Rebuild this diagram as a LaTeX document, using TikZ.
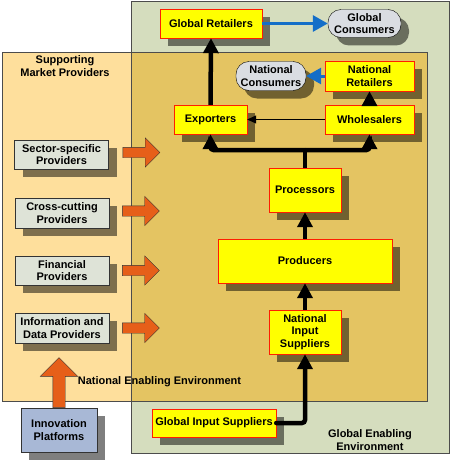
\documentclass[tikz,border=0pt]{standalone}
\usepackage{fontspec}
\setmainfont{Liberation Sans}
\usetikzlibrary{arrows.meta,shapes.arrows,shadows}
\definecolor{globalenv}{RGB}{213,221,190}
\definecolor{natlight}{RGB}{254,223,156}
\definecolor{natdark}{RGB}{228,196,98}
\definecolor{chainyellow}{RGB}{255,255,0}
\definecolor{chainred}{RGB}{255,30,0}
\definecolor{provgray}{RGB}{222,227,215}
\definecolor{innoblue}{RGB}{168,184,214}
\definecolor{arroworange}{RGB}{230,95,25}
\definecolor{flowblue}{RGB}{20,110,200}
\definecolor{consgray}{RGB}{218,221,226}

\begin{document}
\begin{tikzpicture}[x=1pt,y=-1pt,font=\fontsize{11}{12.7}\selectfont\bfseries]
\tikzstyle{shade}=[drop shadow={shadow xshift=8pt,shadow yshift=-8pt,fill=black,opacity=0.5}]
\tikzstyle{chain}=[draw=chainred,fill=chainyellow,align=center,inner sep=1pt,shade]
\tikzstyle{provider}=[draw=black!80,fill=provgray,align=center,inner sep=1pt,minimum width=94pt,minimum height=29pt,shade]
\tikzstyle{consumer}=[draw=black,fill=consgray,align=center,inner sep=1pt,rounded corners=13pt,shade]
\tikzstyle{thick flow}=[line width=4.5pt,-{Triangle[width=15pt,length=15pt]}]
\tikzstyle{thin flow}=[line width=1pt,-{Triangle[width=8pt,length=9pt]}]
\tikzstyle{blue flow}=[line width=3pt,color=flowblue,-{Triangle[width=16pt,length=15pt]}]
\tikzstyle{support}=[single arrow,draw=black!80,fill=arroworange,inner sep=5pt,single arrow head extend=9.5pt,minimum height=37pt]

\useasboundingbox (0,0) rectangle (451,460);

% environments
\fill [globalenv] (131,1) rectangle (449,453);
\fill [natlight] (2,52) rectangle (427,401);
\fill [natdark] (131,52) rectangle (427,401);
\draw [black!70] (131,1) rectangle (449,453);
\draw [black!70] (2,52) rectangle (427,401);

% value chain
\coordinate (proc) at (305,190);
\path (proc) + (0,71) coordinate (prod);
\path (proc) + (0,142) coordinate (nis);
\path (proc) + (-91,233) coordinate (gis);
\path (proc) + (-94.5,-70.5) coordinate (exp);
\path (proc) + (64.5,-70.5) coordinate (whole);
\path (whole) + (0,-43.5) coordinate (nret);
\path (nret) + (-98.5,0) coordinate (ncons);
\path (exp) + (0.5,-96) coordinate (gret);
\path (gret) + (153.5,0) coordinate (gcons);
\path (proc) + (0,-40) coordinate (split);

\node (GR) [chain,minimum width=102pt,minimum height=29pt] at (gret) {Global Retailers};
\node (GC) [consumer,minimum width=73pt,minimum height=28pt] at (gcons) {Global\\Consumers};
\node (NC) [consumer,minimum width=70pt,minimum height=29pt] at (ncons) {National\\Consumers};
\node (NR) [chain,minimum width=89pt,minimum height=30pt] at (nret) {National\\Retailers};
\node (WH) [chain,minimum width=89pt,minimum height=29pt] at (whole) {Wholesalers};
\node (EX) [chain,minimum width=73pt,minimum height=29pt] at (exp) {Exporters};
\node (PR) [chain,minimum width=72pt,minimum height=44pt] at (proc) {Processors};
\node (PD) [chain,minimum width=174pt,minimum height=44pt] at (prod) {Producers};
\node (NI) [chain,minimum width=72pt,minimum height=44pt] at (nis) {National\\Input\\Suppliers};
\node (GI) [chain,minimum width=124pt,minimum height=28pt] at (gis) {Global Input Suppliers};

\draw [blue flow] (GR.east) -- (GC.west);
\draw [blue flow] (NR.west) -- (NC.east);
\draw [thick flow] (EX.north) -- (GR.south);
\draw [thick flow] (WH.north) -- (NR.south);
\draw [thin flow] (WH.west) -- (EX.east);
\draw [line width=4.5pt] (PR.north) -- (split);
\draw [thick flow,rounded corners=3pt] (split) -| (EX.south);
\draw [thick flow,rounded corners=3pt] (split) -| (WH.south);
\draw [thick flow] (PR.south |- PD.north) -- (PR.south);
\draw [thick flow] (NI.north) -- (PD.south);
\draw [thick flow,line cap=round,rounded corners=3pt] (GI.east) -| (NI.south);

% supporting providers
\coordinate (sec) at (61.5,154.5);
\path (sec) + (0.5,58.5) coordinate (cross);
\path (sec) + (0.5,116) coordinate (fin);
\path (sec) + (0.5,173.5) coordinate (info);
\path (sec) + (-2.5,275.5) coordinate (inno);

\node (SEC) [provider] at (sec) {Sector-specific\\Providers};
\node (CRO) [provider,minimum height=30pt] at (cross) {Cross-cutting\\Providers};
\node (FIN) [provider] at (fin) {Financial\\Providers};
\node (INF) [provider,minimum height=30pt] at (info) {Information and\\Data Providers};
\node (INN) [provider,fill=innoblue,minimum width=76pt,minimum height=44pt] at (inno) {Innovation\\Platforms};

\node (SECA) [support,anchor=tail,xshift=14pt,yshift=2pt] at (SEC.east) {};
\node (CROA) [support,anchor=tail,xshift=13pt,yshift=2pt] at (CRO.east) {};
\node (FINA) [support,anchor=tail,xshift=13pt] at (FIN.east) {};
\node (INFA) [support,anchor=tail,xshift=13pt] at (INF.east) {};
\node (INNA) [support,shape border rotate=90,anchor=tail,inner sep=6pt,single arrow head extend=12.5pt,minimum height=50pt] at (INN.north) {};

% labels
\node (SMP) [align=center] at (65,66) {Supporting\\Market Providers};
\node (NEE) at (159.5,382) {National Enabling Environment};
\node (GEE) [align=center] at (370,440) {Global Enabling\\Environment};

\end{tikzpicture}
\end{document}
